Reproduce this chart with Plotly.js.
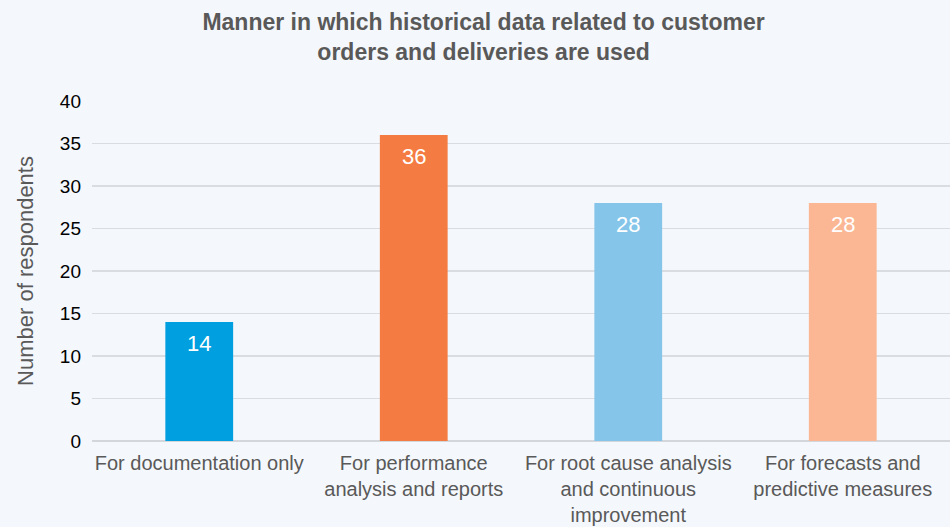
<!DOCTYPE html>
<html>
<head>
<meta charset="utf-8">
<script src="https://cdn.plot.ly/plotly-3.0.1.min.js"></script>
<style>
  html, body { margin: 0; padding: 0; background: #f4f7fb; }
  #chart { width: 950px; height: 527px; }
</style>
</head>
<body>
<div id="chart"></div>
<script>
// categories and values
var categories = [
    'For documentation only',
    'For performance<br>analysis and reports',
    'For root cause analysis<br>and continuous<br>improvement',
    'For forecasts and<br>predictive measures'
];
var respondents = [14, 36, 28, 28];
var bar_colors = ['#009fdf', '#f47c42', '#85c5ea', '#fbb793'];
var y_ticks = [0, 5, 10, 15, 20, 25, 30, 35, 40];

var trace = {
    x: categories,
    y: respondents,
    type: 'bar',
    marker: {color: bar_colors},
    hoverinfo: 'none'
};

// value labels sit just inside the top of each bar
var labels = [];
for (let i = 0; i < categories.length; i++) {
    labels.push({
        x: categories[i],
        y: respondents[i],
        text: String(respondents[i]),
        showarrow: false,
        yanchor: 'top',
        yshift: -7,
        font: {family: 'Liberation Sans, Arial, sans-serif', size: 22, color: '#ffffff'}
    });
}

var layout = {
    width: 950,
    height: 527,
    paper_bgcolor: '#f4f7fb',
    plot_bgcolor: '#f4f7fb',
    margin: {l: 92, r: 0, t: 101, b: 86},
    bargap: 0.684,
    showlegend: false,
    font: {family: 'Liberation Sans, Arial, sans-serif'},
    title: {
        text: '<b>Manner in which historical data related to customer<br>orders and deliveries are used</b>',
        x: 0.509,
        xref: 'container',
        xanchor: 'center',
        y: 0.943,
        yref: 'container',
        yanchor: 'top',
        font: {size: 23, color: '#595959'}
    },
    xaxis: {
        tickfont: {size: 20, color: '#595959'},
        showgrid: false,
        showline: false,
        ticks: '',
        ticklabelstandoff: 8
    },
    yaxis: {
        range: [0, 40],
        tickvals: y_ticks,
        tickfont: {size: 19, color: '#000000'},
        gridcolor: '#d9dde2',
        gridwidth: 1.3,
        zerolinecolor: '#d3d7dc',
        zerolinewidth: 1.5,
        ticks: '',
        ticklen: 0,
        ticklabelstandoff: 10,
        title: {
            text: 'Number of respondents',
            font: {size: 22, color: '#595959'},
            standoff: 20
        }
    },
    annotations: labels
};

Plotly.newPlot('chart', [trace], layout, {displayModeBar: false, staticPlot: true});
</script>
</body>
</html>
